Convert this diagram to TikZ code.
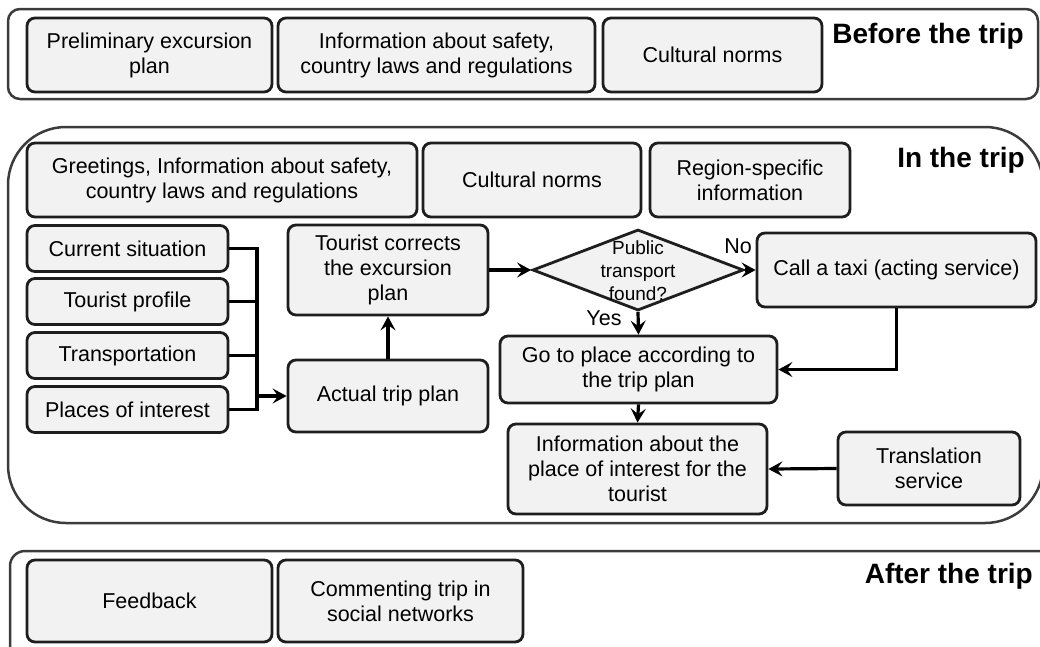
\documentclass[tikz,border=0pt]{standalone}
\usepackage{fontspec}
\setmainfont{Liberation Sans}
\usetikzlibrary{shapes.geometric,arrows.meta,calc}
\definecolor{boxfill}{HTML}{F2F2F2}
\definecolor{boxline}{HTML}{1E1E1E}
\definecolor{outerline}{HTML}{3C3C3C}
\begin{document}
\begin{tikzpicture}[x=1pt,y=-1pt,
  box/.style={draw=boxline, line width=2.8pt, fill=boxfill, rounded corners=8pt, align=center,
              font=\fontsize{21.5}{25}\selectfont, inner sep=2pt},
  frame/.style={draw=outerline, line width=2.5pt},
  conn/.style={line width=3.2pt, draw=black},
  arr/.style={conn, -{Stealth[length=14pt,width=15pt,inset=5.5pt]}},
  head/.style={font=\fontsize{28}{30}\selectfont\bfseries, inner sep=0pt, anchor=base east},
  lbl/.style={font=\fontsize{21.5}{25}\selectfont, inner sep=0pt}
]
\useasboundingbox (0,0) rectangle (1040,646);

% ---------- Before the trip ----------
\draw[frame, rounded corners=12pt] (8,9) rectangle (1038,99);
\node[box, minimum width=245pt, minimum height=74pt] (prelim) at (149.5,55) {Preliminary excursion\\plan};
\node[box, minimum width=317pt, minimum height=74pt] (safety1) at (436.5,55) {Information about safety,\\country laws and regulations};
\node[box, minimum width=219pt, minimum height=74pt] (cult1) at (712.5,55) {Cultural norms};
\node[head] (before) at (1024,43) {Before the trip};

% ---------- In the trip ----------
\draw[frame, rounded corners=58pt] (8,127) rectangle (1043,523);
\node[box, minimum width=390pt, minimum height=74pt] (greet) at (222,180) {Greetings, Information about safety,\\country laws and regulations};
\node[box, minimum width=218pt, minimum height=74pt] (cult2) at (532,180) {Cultural norms};
\node[box, minimum width=200pt, minimum height=74pt] (region) at (750,180) {Region-specific\\information};
\node[head] (intrip) at (1025,167) {In the trip};

\node[box, minimum width=201pt, minimum height=46pt] (cur) at (127.5,248.5) {Current situation};
\node[box, minimum width=201pt, minimum height=46pt] (prof) at (127.5,301.5) {Tourist profile};
\node[box, minimum width=201pt, minimum height=46pt] (trans) at (127.5,355.5) {Transportation};
\node[box, minimum width=201pt, minimum height=46pt] (places) at (127.5,409.5) {Places of interest};

\node[box, minimum width=200pt, minimum height=72pt] (actual) at (388,396) {Actual trip plan};
\node[box, minimum width=200pt, minimum height=90pt] (tour) at (388,270) {Tourist corrects\\the excursion\\plan};

\node[draw=boxline, line width=2.8pt, fill=boxfill, diamond, minimum width=211pt, minimum height=81pt, inner sep=0pt] (dec) at (638,270) {};
\node[lbl, font=\fontsize{19}{23}\selectfont, align=center] (dectext) at (638,271) {Public\\transport\\found?};

\node[box, minimum width=279pt, minimum height=74pt] (taxi) at (896.5,270) {Call a taxi (acting service)};
\node[box, minimum width=277pt, minimum height=67pt] (go) at (638.5,369.5) {Go to place according to\\the trip plan};
\node[box, minimum width=259pt, minimum height=90pt] (info) at (637.5,469) {Information about the\\place of interest for the\\tourist};
\node[box, minimum width=182pt, minimum height=73pt] (transl) at (929,468.5) {Translation\\service};

\node[lbl] (no) at (738,246) {No};
\node[lbl] (yes) at (604,318) {Yes};

\coordinate (busx) at (257,0);
\draw[conn] (cur.east) -- (cur.east -| busx) -- (places.east -| busx) -- (places.east);
\draw[conn] (prof.east) -- (prof.east -| busx);
\draw[conn] (trans.east) -- (trans.east -| busx);
\draw[arr] (actual.west -| busx) -- (actual.west);
\draw[arr] (actual.north) -- (tour.south);
\draw[arr] (tour.east) -- (dec.west);
\draw[arr] (dec.east) -- (taxi.west);
\draw[arr] (dec.south) -- (go.north);
\draw[arr] (taxi.south) |- (go.east);
\draw[arr] (go.south) -- (info.north);
\draw[arr] (transl.west) -- (info.east);

% ---------- After the trip ----------
\draw[frame, rounded corners=15pt] (10,551) rectangle (1060,690);
\node[box, minimum width=245pt, minimum height=82pt] (feedback) at (149.5,601) {Feedback};
\node[box, minimum width=245pt, minimum height=82pt] (comment) at (400.5,601) {Commenting trip in\\social networks};
\node[head] (after) at (1033,583) {After the trip};
\end{tikzpicture}
\end{document}
